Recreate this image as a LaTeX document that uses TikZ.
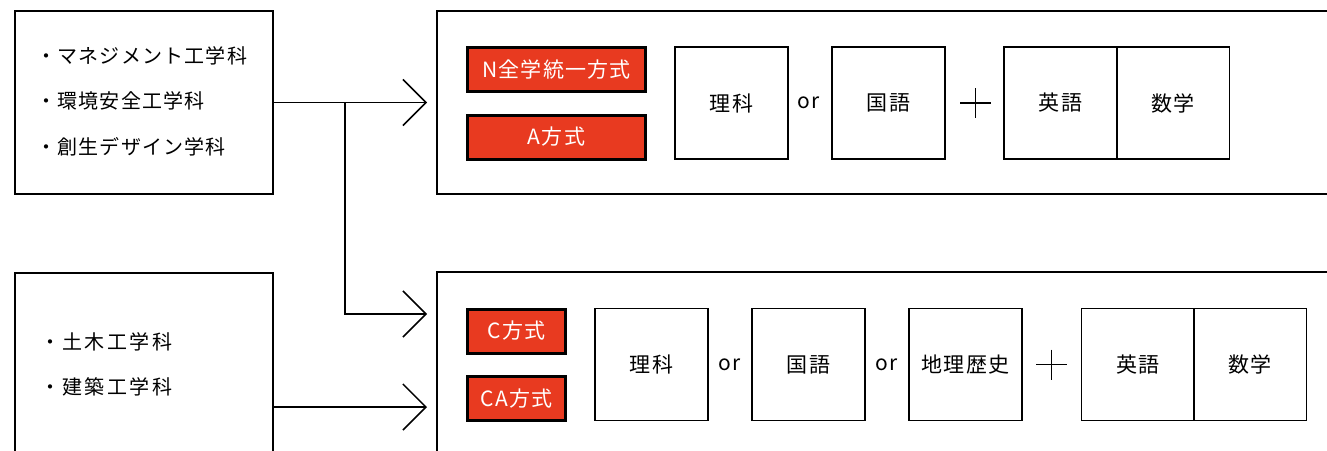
\documentclass[tikz,border=0pt]{standalone}
\usepackage{fontspec}
\setmainfont{Noto Sans CJK JP}[LetterSpace=6]
\newfontfamily\widejp{Noto Sans CJK JP}[LetterSpace=12]
\usetikzlibrary{arrows.meta}
\definecolor{myred}{RGB}{232,58,32}
\begin{document}
\begin{tikzpicture}[x=1pt,y=-1pt,
  every node/.style={inner sep=0pt,font=\fontsize{21}{24}\selectfont},
  lbox/.style={draw,line width=1.5pt,rectangle},
  cont/.style={draw,line width=1.5pt,rectangle},
  redbox/.style={draw=black,fill=myred,line width=3pt,text=white,minimum height=44pt},
  subj/.style={draw,line width=1.5pt,minimum width=113pt,minimum height=112pt},
  item/.style={anchor=west,font=\fontsize{20}{24}\selectfont},
  witem/.style={anchor=west,font=\widejp\fontsize{20}{24}\selectfont},
  arr/.style={line width=1.5pt,-{Straight Barb[length=23pt,width=46pt,line join=miter]}},
  plus/.style={line width=1.5pt}]
\useasboundingbox (0,0) rectangle (1327,450);
\clip (0,0) rectangle (1327,450);
% left boxes
\node[lbox,minimum width=258pt,minimum height=183pt] (ltop) at (144,102.5) {};
\node[lbox,minimum width=258pt,minimum height=200pt] (lbot) at (144,373) {};
\node[item] (t1) at (36,56) {・マネジメント工学科};
\node[item] (t2) at (36,101) {・環境安全工学科};
\node[item] (t3) at (36,147) {・創生デザイン学科};
\node[witem] (b1) at (40,342) {・土木工学科};
\node[witem] (b2) at (40,387) {・建築工学科};
% containers
\node[cont,minimum width=903pt,minimum height=183pt] (ctop) at (888.5,102.5) {};
\node[cont,minimum width=903pt,minimum height=200pt] (cbot) at (888.5,372) {};
% connectors
\coordinate (tipA) at (427,102.5);
\coordinate (br) at (345,102.5);
\coordinate (tipB) at (427,314);
\coordinate (tipC) at (427,407);
\draw[arr] (ltop.east) -- (tipA);
\draw[arr] (br) |- (tipB);
\draw[arr] (lbot.east |- tipC) -- (tipC);
% top row
\node[redbox,minimum width=178pt] (n1) at (556.5,69.5) {N全学統一方式};
\node[redbox,minimum width=178pt] (n2) at (556.5,137) {A方式};
\node[subj] (s1) at (731.5,103) {理科};
\node (o1) at (809,103) {or};
\node[subj] (s2) at (888.5,103) {国語};
\coordinate (p1l) at (960,103); \coordinate (p1r) at (991,103);
\coordinate (p1t) at (975.5,88); \coordinate (p1b) at (975.5,118);
\draw[plus] (p1l) -- (p1r); \draw[plus] (p1t) -- (p1b);
\node[subj] (s3) at (1060.5,103) {英語};
\node[subj] (s4) at (1173,103) {数学};
% bottom row
\node[redbox,minimum width=98pt] (m1) at (516.5,331) {C方式};
\node[redbox,minimum width=98pt] (m2) at (516.5,398.5) {CA方式};
\node[subj] (u1) at (651.5,364.5) {理科};
\node (o2) at (730,364.5) {or};
\node[subj] (u2) at (808.5,364.5) {国語};
\node (o3) at (887,364.5) {or};
\node[subj] (u3) at (965.5,364.5) {地理歴史};
\coordinate (p2l) at (1036,364.5); \coordinate (p2r) at (1067,364.5);
\coordinate (p2t) at (1051.5,349.5); \coordinate (p2b) at (1051.5,379.5);
\draw[plus] (p2l) -- (p2r); \draw[plus] (p2t) -- (p2b);
\node[subj] (u4) at (1138,364.5) {英語};
\node[subj] (u5) at (1250,364.5) {数学};
\end{tikzpicture}
\end{document}
